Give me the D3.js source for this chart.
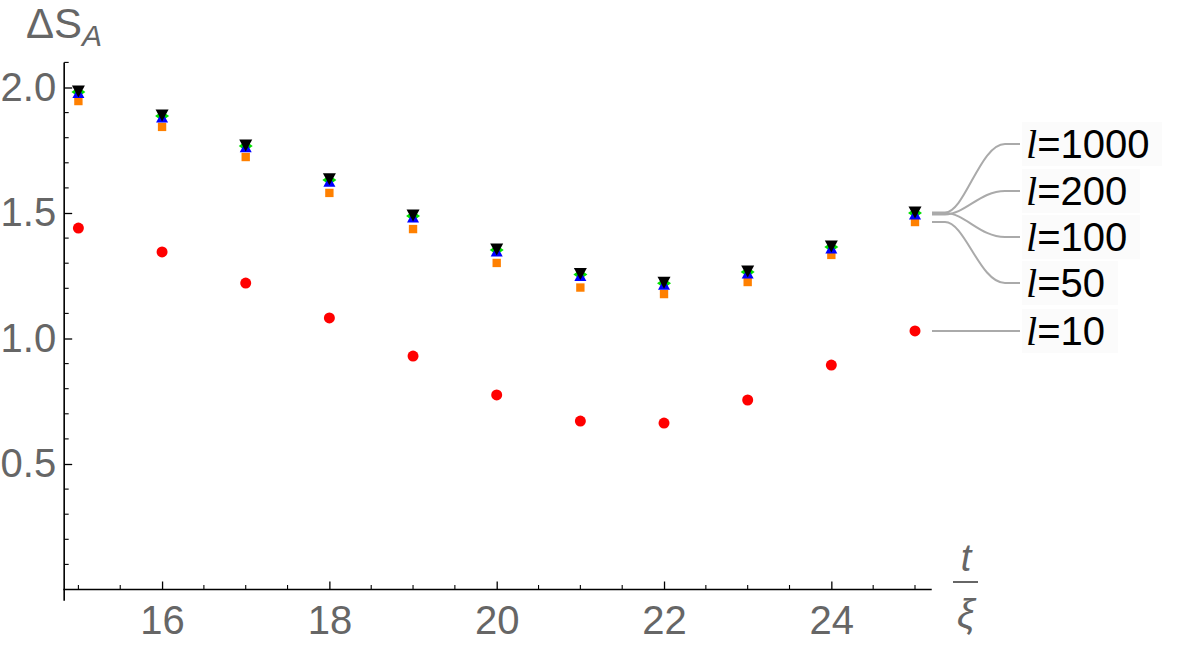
<!DOCTYPE html>
<html>
<head>
<meta charset="utf-8">
<script src="https://cdn.jsdelivr.net/npm/d3@7"></script>
<style>
  body { margin: 0; background: #fff; }
  text { font-family: "Liberation Sans", Arial, sans-serif; }
</style>
</head>
<body>
<svg width="1200" height="650"></svg>
<script>
// t / xi values
const tValues = [15, 16, 17, 18, 19, 20, 21, 22, 23, 24, 25];

// Delta S_A for each l
const l10   = [1.440, 1.345, 1.221, 1.082, 0.930, 0.775, 0.671, 0.663, 0.755, 0.894, 1.030];
const l50   = [1.946, 1.843, 1.723, 1.580, 1.436, 1.301, 1.203, 1.177, 1.225, 1.333, 1.464];
const l100  = [1.982, 1.886, 1.767, 1.631, 1.488, 1.353, 1.255, 1.220, 1.265, 1.365, 1.500];
const l200  = [1.978, 1.880, 1.762, 1.625, 1.482, 1.347, 1.249, 1.214, 1.259, 1.359, 1.494];
const l1000 = [1.984, 1.888, 1.769, 1.634, 1.490, 1.355, 1.257, 1.222, 1.267, 1.367, 1.502];

const xMajor = [16, 18, 20, 22, 24];
const yMajor = [0.5, 1.0, 1.5, 2.0];

// series in drawing order (bottom to top)
const series = [
  { label: "10",   values: l10,   color: "#ff0000", marker: "circle",   labelAt: 1.030 },
  { label: "50",   values: l50,   color: "#ff8000", marker: "square",   labelAt: 1.221 },
  { label: "100",  values: l100,  color: "#00e000", marker: "diamond",  labelAt: 1.404 },
  { label: "200",  values: l200,  color: "#0000ff", marker: "triangle", labelAt: 1.588 },
  { label: "1000", values: l1000, color: "#000000", marker: "down",     labelAt: 1.775 }
];

const svg = d3.select("svg");
const x = d3.scaleLinear([15, 25], [78.4, 915]);
const y = d3.scaleLinear([0, 2], [589.5, 87.5]);
const axisColor = "#000";
const labelColor = "#666";

// axis lines
svg.append("line")
  .attr("x1", x(14.82)).attr("x2", x(25.2))
  .attr("y1", y(0)).attr("y2", y(0))
  .attr("stroke", axisColor).attr("stroke-width", 1.6);
svg.append("line")
  .attr("x1", x(14.83)).attr("x2", x(14.83))
  .attr("y1", y(-0.045)).attr("y2", y(2.1))
  .attr("stroke", axisColor).attr("stroke-width", 1.6);

// x ticks
const xMinor = d3.range(15, 25.01, 0.5).filter(v => !xMajor.includes(v));
const xAxis = svg.append("g")
  .attr("transform", `translate(0,${y(0)})`)
  .call(d3.axisBottom(x).tickValues(xMajor).tickSize(-8).tickPadding(20).tickFormat(d3.format("d")));
xAxis.select(".domain").remove();
xAxis.selectAll("line").attr("stroke", axisColor).attr("stroke-width", 1.3);
xAxis.selectAll("text")
  .attr("fill", labelColor).attr("font-size", 40)
  .attr("dy", "0.71em").attr("y", 16);
svg.append("g").selectAll("line").data(xMinor).join("line")
  .attr("x1", d => x(d)).attr("x2", d => x(d))
  .attr("y1", y(0)).attr("y2", y(0) - 4.5)
  .attr("stroke", axisColor).attr("stroke-width", 1.1);

// y ticks
const yMinor = d3.range(1, 22).map(i => i / 10).filter(v => !yMajor.some(m => Math.abs(m - v) < 1e-9));
const yAxis = svg.append("g")
  .attr("transform", `translate(${x(14.83)},0)`)
  .call(d3.axisLeft(y).tickValues(yMajor).tickSize(-8).tickPadding(16).tickFormat(d3.format(".1f")));
yAxis.select(".domain").remove();
yAxis.selectAll("line").attr("stroke", axisColor).attr("stroke-width", 1.3);
yAxis.selectAll("text").attr("fill", labelColor).attr("font-size", 40).attr("x", -8);
svg.append("g").selectAll("line").data(yMinor).join("line")
  .attr("x1", x(14.83)).attr("x2", x(14.83) + 4.5)
  .attr("y1", d => y(d)).attr("y2", d => y(d))
  .attr("stroke", axisColor).attr("stroke-width", 1.1);

// axis labels
const yl = svg.append("text").attr("x", 26).attr("y", 38).attr("fill", labelColor).attr("font-size", 42);
yl.append("tspan").text("ΔS");
yl.append("tspan").attr("font-style", "italic").attr("font-size", 30).attr("dy", 8).text("A");

svg.append("text").attr("x", 966).attr("y", 571).attr("text-anchor", "middle")
  .attr("fill", labelColor).attr("font-size", 38).attr("font-style", "italic").text("t");
svg.append("line").attr("x1", 953).attr("x2", 978).attr("y1", 582).attr("y2", 582)
  .attr("stroke", labelColor).attr("stroke-width", 2);
svg.append("text").attr("x", 966).attr("y", 628).attr("text-anchor", "middle")
  .attr("fill", labelColor).attr("font-size", 40).attr("font-style", "italic").text("ξ");

// markers
const markerPath = {
  square: d3.symbol(d3.symbolSquare, 70)(),
  diamond: "M-7,0L0,-5L7,0L0,5Z",
  triangle: "M-6,5L6,5L0,-6Z",
  down: "M-6.5,-6L6.5,-6L0,6Z"
};
series.forEach(s => {
  const g = svg.append("g");
  const pts = tValues.map((t, i) => [t, s.values[i]]);
  if (s.marker === "circle") {
    g.selectAll("circle").data(pts).join("circle")
      .attr("cx", d => x(d[0])).attr("cy", d => y(d[1])).attr("r", 5.5)
      .attr("fill", s.color);
  } else {
    g.selectAll("path").data(pts).join("path")
      .attr("transform", d => `translate(${x(d[0])},${y(d[1])})`)
      .attr("d", markerPath[s.marker])
      .attr("fill", s.color);
  }
});

// callout labels
const lastX = x(tValues[tValues.length - 1]);
const x0 = lastX + 17, xb = lastX + 30, xe = lastX + 90, xl = lastX + 105;
series.forEach(s => {
  const y0 = y(s.values[s.values.length - 1]);
  const y1 = y(s.labelAt);
  svg.append("path")
    .attr("d", `M${x0},${y0}L${xb},${y0}C${xb + 20},${y0} ${xe - 25},${y1} ${xe},${y1}L${xl},${y1}`)
    .attr("fill", "none").attr("stroke", "#aaa").attr("stroke-width", 2);
  svg.append("rect")
    .attr("x", xl + 2).attr("y", y1 - 22).attr("width", s.label.length * 22 + 52).attr("height", 44)
    .attr("fill", "#f9f9f9").attr("opacity", 0.7);
  const t = svg.append("text").attr("x", xl + 6).attr("y", y1).attr("dy", "0.36em")
    .attr("font-size", 40).attr("fill", "#000");
  t.append("tspan").attr("font-style", "italic").attr("font-family", "Liberation Serif, serif").text("l");
  t.append("tspan").text("=" + s.label);
});
</script>
</body>
</html>
